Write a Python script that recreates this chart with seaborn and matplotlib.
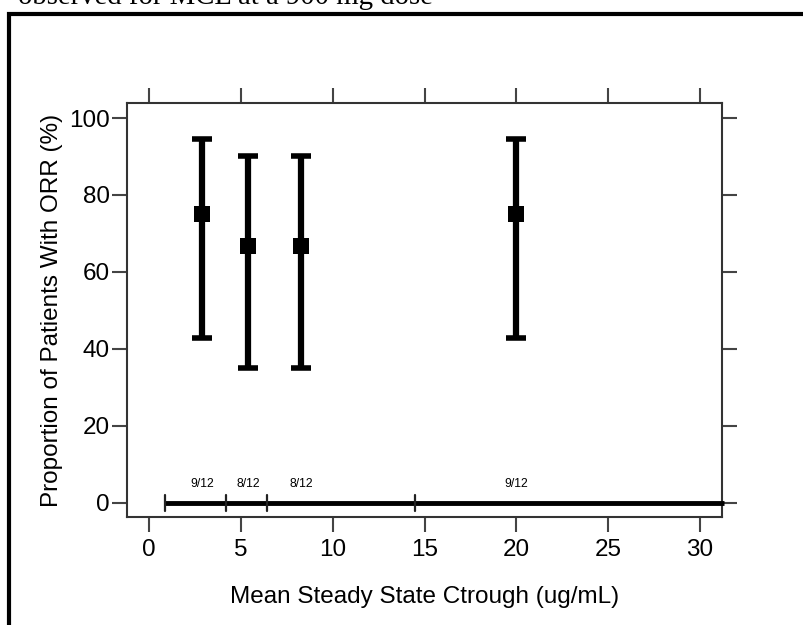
import matplotlib
matplotlib.use("Agg")
import matplotlib.pyplot as plt
import seaborn as sns
import pandas as pd
from matplotlib.patches import Rectangle

# Data
ctrough = [2.9, 5.4, 8.3, 20.0]
orr = [75.0, 66.7, 66.7, 75.0]
ci_low = [42.8, 34.9, 34.9, 42.8]
ci_high = [94.5, 90.1, 90.1, 94.5]
counts = ["9/12", "8/12", "8/12", "9/12"]
quartile_bounds = [0.87, 4.2, 6.42, 14.5]
quartile_max = 31.3
x_ticks = [0, 5, 10, 15, 20, 25, 30]
y_ticks = [0, 20, 40, 60, 80, 100]

df = pd.DataFrame({"ctrough": ctrough, "orr": orr, "lo": ci_low, "hi": ci_high, "n": counts})

sns.set_theme(style="white")
plt.rcParams["font.family"] = ["Liberation Sans", "DejaVu Sans"]

fig = plt.figure(figsize=(8.04, 6.25), dpi=100)
W, H = 804, 625
ax = fig.add_axes([127 / W, 1 - 517 / H, (722 - 127) / W, (517 - 103) / H])

# Error bars
ax.errorbar(df["ctrough"], df["orr"],
            yerr=[df["orr"] - df["lo"], df["hi"] - df["orr"]],
            fmt="none", ecolor="black", elinewidth=4.5, capsize=7.5, capthick=4, zorder=3)
sns.scatterplot(data=df, x="ctrough", y="orr", marker="s", s=140, color="black",
                edgecolor="black", linewidth=0, ax=ax, zorder=4, legend=False)

# Quartile line at y=0
ax.plot([quartile_bounds[0], quartile_max], [0, 0], color="black", lw=3.5,
        solid_capstyle="butt", clip_on=False, zorder=3)
for b in quartile_bounds:
    ax.plot([b, b], [-2.1, 2.1], color="#222222", lw=1.6, zorder=3)
for x, t in zip(ctrough, counts):
    ax.text(x, 3.3, t, ha="center", va="bottom", fontsize=8.8, color="black")

ax.set_xlim(-1.2, 31.2)
ax.set_ylim(-3.7, 103.9)
ax.set_xticks(x_ticks)
ax.set_yticks(y_ticks)
ax.tick_params(axis="both", which="both", direction="out", length=11, width=1.5,
               color="#444444", labelsize=17.5, labelcolor="black",
               top=True, right=True, bottom=True, left=True,
               labeltop=False, labelright=False)
ax.tick_params(axis="y", pad=1.5)
ax.tick_params(axis="x", pad=5)
for s in ax.spines.values():
    s.set_color("#333333")
    s.set_linewidth(1.5)
ax.set_xlabel("Mean Steady State Ctrough (ug/mL)", fontsize=17.5, labelpad=18, color="black")
ax.set_ylabel("Proportion of Patients With ORR (%)", fontsize=17.5, labelpad=4, color="black")
ax.set_facecolor("white")

# Page border and cut-off caption
fig.patches.append(Rectangle((9.5 / W, -0.05), 1.2, 1 - 13.5 / H + 0.05,
                             transform=fig.transFigure, fill=False, edgecolor="black",
                             linewidth=3, zorder=10))
fig.text(18 / W, 1 - 4 / H, "observed for MCL at a 900 mg dose", ha="left", va="baseline",
         fontsize=20.7, family=["Liberation Serif", "DejaVu Serif"], color="black")

fig.savefig("out.png", dpi=100, facecolor="white")
